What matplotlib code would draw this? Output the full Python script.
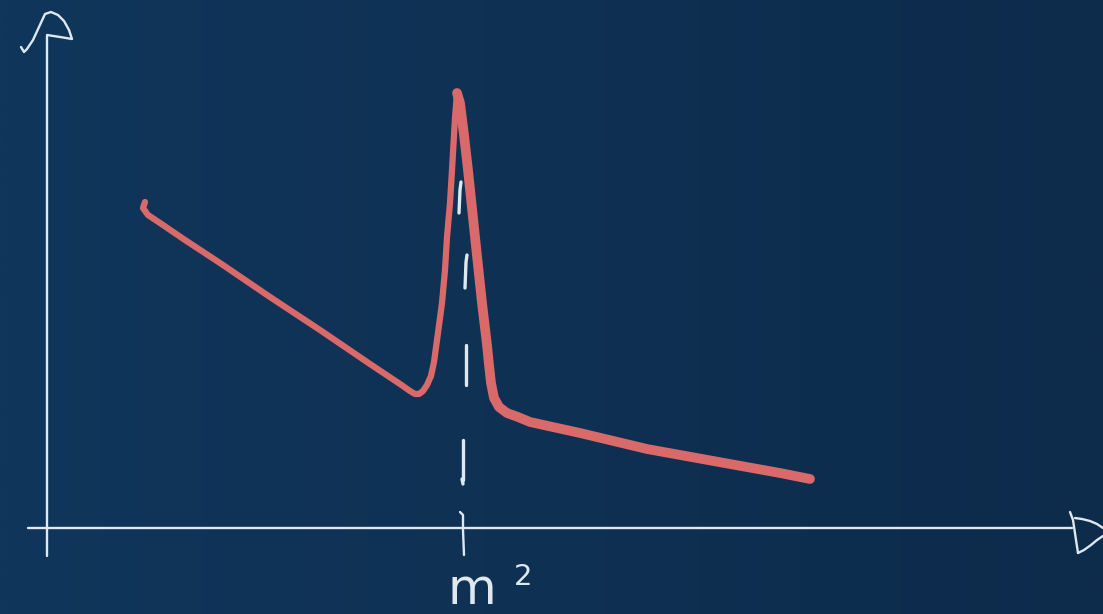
import matplotlib.pyplot as plt
import numpy as np

# sketch data (image pixel coordinates, y downwards)
curve_left_x = [145, 143, 148, 160, 185, 220, 270, 320, 370, 400, 410, 415, 419, 423, 427, 431, 434, 437, 440, 442,
                445, 447, 450, 452, 455, 457]
curve_left_y = [202, 208, 215, 223, 240, 263, 297, 330, 364, 384, 391, 394, 394, 391, 385, 376, 362, 340, 318, 303,
                270, 237, 203, 170, 118, 93]
curve_right_x = [457, 460, 464, 468, 475, 482, 487, 489, 491, 494, 499, 507, 518, 530, 580, 647, 730, 780, 810]
curve_right_y = [93, 103, 135, 170, 237, 303, 345, 365, 383, 398, 407, 413, 417, 422, 433, 449, 464, 473, 479]

dash_x = [(459, 460, 461), (465, 466, 467), (466, 466), (463, 463), (462, 463)]
dash_y = [(213, 190, 182), (288, 262, 255), (345, 385), (440, 480), (479, 484)]

yaxis_x = [47, 47]
yaxis_y = [556, 36]
yarrow_x = [21, 24, 27, 33, 39, 45, 51, 58, 64, 69, 72, 60, 47]
yarrow_y = [47, 52, 49, 40, 27, 14, 12, 15, 21, 30, 39, 37, 35]
xaxis_x = [28, 1072]
xaxis_y = [528, 528]
xarrow_bar_x = [1070, 1073, 1076, 1078]
xarrow_bar_y = [512, 520, 540, 553]
xarrow_top_x = [1075, 1082, 1090, 1097, 1103]
xarrow_top_y = [518, 519, 521, 524, 528]
xarrow_bot_x = [1078, 1084, 1091, 1097, 1103]
xarrow_bot_y = [553, 550, 545, 540, 536]
tick_x = [460, 463, 463, 464]
tick_y = [512, 515, 530, 555]

red = '#d96a69'
white = '#dfe7ef'

fig = plt.figure(figsize=(11.03, 6.14), dpi=100)
ax = fig.add_axes([0, 0, 1, 1])

# fond en dégradé bleu
gx = np.linspace(0, 1, 256)
gy = np.linspace(0, 1, 256)
GX, GY = np.meshgrid(gx, gy)
c0 = np.array([16, 54, 91]) / 255
c1 = np.array([13, 43, 75]) / 255
t = np.clip(GX, 0, 1)[..., None]
img = c0 * (1 - t) + c1 * t
ax.imshow(img, extent=[0, 1103, 614, 0], aspect='auto', zorder=0)

# axes dessinés à la main
kw = dict(color=white, lw=1.7, solid_capstyle='round', solid_joinstyle='round')
ax.plot(yaxis_x, yaxis_y, **kw)
ax.plot(yarrow_x, yarrow_y, **kw)
ax.plot(xaxis_x, xaxis_y, **kw)
ax.plot(xarrow_bar_x, xarrow_bar_y, **kw)
ax.plot(xarrow_top_x, xarrow_top_y, **kw)
ax.plot(xarrow_bot_x, xarrow_bot_y, **kw)
ax.plot(tick_x, tick_y, **kw)

# ligne pointillée au pic
for dx, dy in zip(dash_x, dash_y):
    ax.plot(dx, dy, color=white, lw=2.4, solid_capstyle='round', zorder=3)

# courbe
ax.plot(curve_left_x, curve_left_y, color=red, lw=4.5, solid_capstyle='round', solid_joinstyle='round', zorder=4)
ax.plot(curve_right_x, curve_right_y, color=red, lw=7, solid_capstyle='round', solid_joinstyle='round', zorder=4)

ax.text(472, 614, 'm', color=white, fontsize=36, ha='center', va='bottom')
ax.text(523, 577, '2', color=white, fontsize=21, ha='center', va='center')

ax.set_xlim(0, 1103)
ax.set_ylim(614, 0)
ax.axis('off')

plt.savefig('out.png', dpi=100)
